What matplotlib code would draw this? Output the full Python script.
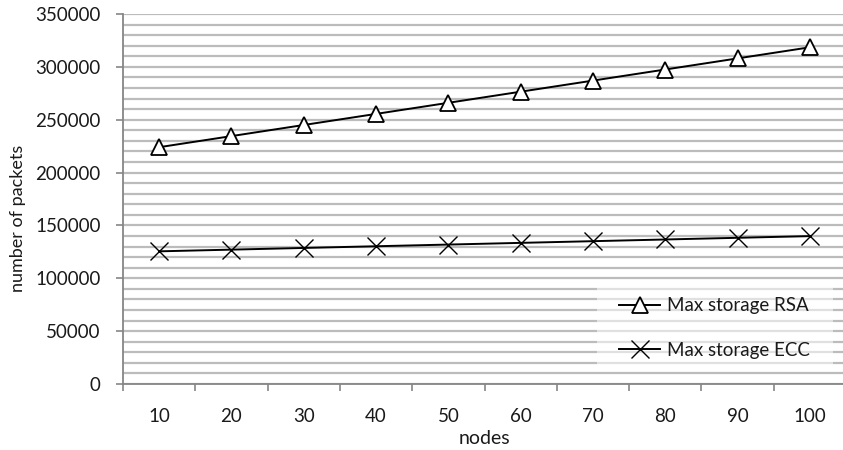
import matplotlib
matplotlib.use("Agg")
import matplotlib.pyplot as plt
from matplotlib.ticker import MultipleLocator, FixedLocator, NullFormatter, FixedFormatter
from matplotlib.patches import Rectangle

plt.rcParams['font.family'] = ['Lato', 'DejaVu Sans']

nodes = [10, 20, 30, 40, 50, 60, 70, 80, 90, 100]
rsa = [224000, 234500, 245000, 255500, 266000, 276500, 287000, 297500, 308000, 318500]
ecc = [125500, 127100, 128700, 130300, 131900, 133500, 135100, 136700, 138300, 139900]
series_labels = ["Max storage RSA", "Max storage ECC"]

W, H = 843, 450
fig = plt.figure(figsize=(W / 100, H / 100), dpi=100)
left, right, top, bottom = 123, 846, 14, 384
ax = fig.add_axes([left / W, 1 - bottom / H, (right - left) / W, (bottom - top) / H])

xs = list(range(len(nodes)))
grid_c = '#bcbcbc'
axis_c = '#868686'
text_c = '#1a1a1a'

ax.set_ylim(0, 350000)
ax.set_xlim(-0.5, len(nodes) - 0.5)
ax.yaxis.set_major_locator(MultipleLocator(50000))
ax.yaxis.set_minor_locator(MultipleLocator(10000))
ax.grid(True, axis='y', which='both', color=grid_c, linewidth=1.6, zorder=0)
ax.set_axisbelow(True)

ax.xaxis.set_major_locator(FixedLocator([i - 0.5 for i in range(len(nodes) + 1)]))
ax.xaxis.set_major_formatter(NullFormatter())
ax.xaxis.set_minor_locator(FixedLocator(xs))
ax.xaxis.set_minor_formatter(FixedFormatter([str(n) for n in nodes]))
ax.tick_params(axis='x', which='major', length=5, width=1.2, color=axis_c, direction='out')
ax.tick_params(axis='x', which='minor', length=0, pad=17, labelsize=13.5, labelcolor=text_c)
ax.tick_params(axis='y', which='major', length=5, width=1.2, color=axis_c, pad=11, labelsize=13.5, labelcolor=text_c)
ax.tick_params(axis='y', which='minor', length=0)
ax.yaxis.set_major_formatter(matplotlib.ticker.FuncFormatter(lambda v, p: f"{int(v)}"))

for s in ['top', 'right']:
    ax.spines[s].set_visible(False)
for s in ['left', 'bottom']:
    ax.spines[s].set_color(axis_c)
    ax.spines[s].set_linewidth(1.3)

l1, = ax.plot(xs, rsa, color='black', linewidth=1.4, marker='^', markersize=12,
              markerfacecolor='white', markeredgecolor='black', markeredgewidth=1.3,
              label=series_labels[0], zorder=3)
l2, = ax.plot(xs, ecc, color='black', linewidth=1.4, marker='x', markersize=13,
              markeredgewidth=1.0, label=series_labels[1], zorder=3)

# legend background
fig.patches.append(Rectangle((597 / W, 1 - 369 / H), (833 - 597) / W, (369 - 286) / H,
                             transform=fig.transFigure, facecolor='white', alpha=0.55,
                             edgecolor='none', zorder=2))
leg = fig.legend(handles=[l1, l2], loc='center left', bbox_to_anchor=(619 / W, 1 - 328 / H),
                 frameon=False, fontsize=13.5, labelspacing=1.45, handlelength=2.2,
                 handletextpad=0.35, borderpad=0, borderaxespad=0, markerscale=0.95)
for t in leg.get_texts():
    t.set_color(text_c)

fig.text((left + right) / 2 / W, 1 - 439 / H, 'nodes', ha='center', va='center', fontsize=14, color=text_c)
fig.text(18 / W, 1 - 218 / H, 'number of packets', ha='center', va='center', rotation=90,
         fontsize=13, color=text_c)

fig.savefig('out.png', dpi=100)
